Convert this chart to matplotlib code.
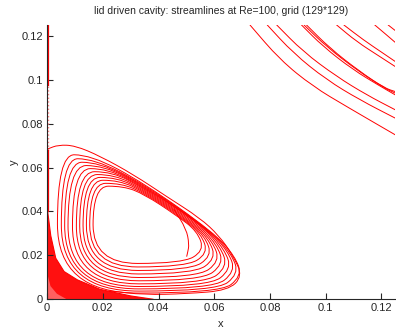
import numpy as np
import matplotlib
matplotlib.use('Agg')
import matplotlib.pyplot as plt
from matplotlib.path import Path
from matplotlib.patches import PathPatch

# corner eddy loops, outer (0) -> inner (10)
left_x = [0.0037, 0.0051, 0.0063, 0.0075, 0.0091, 0.0105, 0.0117, 0.0129, 0.0141, 0.0153, 0.0165]
bottom_y = [0.0028, 0.0037, 0.0047, 0.0058, 0.0070, 0.0084, 0.0099, 0.0115, 0.0131, 0.0147, 0.0163]
top_y = [0.0658, 0.0640, 0.0624, 0.0609, 0.0595, 0.0581, 0.0568, 0.0555, 0.0542, 0.0528, 0.0515]
top_x = [0.0097, 0.0110, 0.0125, 0.0140, 0.0155, 0.0170, 0.0180, 0.0190, 0.0200, 0.0210, 0.0220]
tip_x = [0.0700, 0.0688, 0.0676, 0.0662, 0.0648, 0.0634, 0.0620, 0.0606, 0.0592, 0.0578, 0.0564]
tip_y = [0.0105, 0.0115, 0.0126, 0.0137, 0.0148, 0.0160, 0.0172, 0.0184, 0.0196, 0.0208, 0.0220]
band_off = [0.0006, 0.0011, 0.0016, 0.0021, 0.0026, 0.0031, 0.0036, 0.0041, 0.0046, 0.0051, 0.0056]

# outermost streamline of the eddy (diagonal band)
band_x = [0.008, 0.019, 0.031, 0.043, 0.0549, 0.0615, 0.0665]
band_y = [0.0703, 0.065, 0.0567, 0.0466, 0.0369, 0.029, 0.020]
outer_x = [0.0003, 0.004, 0.010, 0.019, 0.031, 0.043, 0.0549, 0.0617, 0.0667, 0.0702, 0.065, 0.050, 0.035, 0.022]
outer_y = [0.0685, 0.0703, 0.0700, 0.0652, 0.0568, 0.0467, 0.0370, 0.0290, 0.0200, 0.0105, 0.0040, 0.0025, 0.0020, 0.0038]
hook_x = [0.0455, 0.0500, 0.0510, 0.0505, 0.0501]
hook_y = [0.0410, 0.0320, 0.0250, 0.0215, 0.0194]

# dense streamlines near the corner
fan_x = [0.0, 0.0, 0.0013, 0.0031, 0.0061, 0.0109, 0.019, 0.030, 0.038, 0.0]
fan_y = [0.0, 0.042, 0.029, 0.0187, 0.0126, 0.0088, 0.0045, 0.0015, 0.0, 0.0]
core_x = [0.0, 0.0, 0.0012, 0.0035, 0.007, 0.0]
core_y = [0.0, 0.012, 0.006, 0.0025, 0.0, 0.0]

# main vortex streamlines in the upper right
arcs = [
    ([0.0728, 0.0836, 0.0955, 0.1075, 0.1250], [0.1250, 0.1091, 0.0969, 0.0878, 0.0749]),
    ([0.0790, 0.0884, 0.1003, 0.1123, 0.1250], [0.1250, 0.1121, 0.1000, 0.0908, 0.0825]),
    ([0.0824, 0.0919, 0.1039, 0.1147, 0.1250], [0.1250, 0.1128, 0.1015, 0.0931, 0.0863]),
    ([0.0913, 0.0991, 0.1099, 0.1194, 0.1250], [0.1250, 0.1151, 0.1045, 0.0972, 0.0931]),
    ([0.0922, 0.1003, 0.1111, 0.1206, 0.1250], [0.1250, 0.1151, 0.1045, 0.0966, 0.0939]),
    ([0.0931, 0.1015, 0.1123, 0.1212, 0.1250], [0.1250, 0.1144, 0.1037, 0.0962, 0.0946]),
    ([0.1039, 0.1111, 0.1194, 0.1250], [0.1250, 0.1174, 0.1106, 0.1060]),
    ([0.1065, 0.1135, 0.1206, 0.1250], [0.1250, 0.1182, 0.1121, 0.1083]),
    ([0.1176, 0.1218, 0.1250], [0.1250, 0.1205, 0.1170]),
    ([0.1224, 0.1250], [0.1250, 0.1224]),
]

ticks = [0, 0.02, 0.04, 0.06, 0.08, 0.1, 0.12]
tick_labels = ['0', '0.02', '0.04', '0.06', '0.08', '0.1', '0.12']

RED = '#ff0000'


def smooth_path(xs, ys, closed=False):
    # quadratic b-spline through control points, drawn by matplotlib
    pts = np.column_stack([xs, ys])
    n = len(pts)
    if closed:
        mids = (pts + np.roll(pts, -1, axis=0)) / 2
        verts = [mids[-1]]
        codes = [Path.MOVETO]
        for i in range(n):
            verts += [pts[i], mids[i]]
            codes += [Path.CURVE3, Path.CURVE3]
    else:
        mids = (pts[:-1] + pts[1:]) / 2
        verts = [pts[0], mids[0]]
        codes = [Path.MOVETO, Path.LINETO]
        for i in range(1, n - 1):
            verts += [pts[i], mids[i]]
            codes += [Path.CURVE3, Path.CURVE3]
        verts.append(pts[-1])
        codes.append(Path.LINETO)
    return Path(verts, codes)


def loop_ctrl(k):
    band = lambda x: np.interp(x, band_x, band_y)
    L, B, T = left_x[k], bottom_y[k], top_y[k]
    tx, ty, off = tip_x[k], tip_y[k], band_off[k]
    xs = [tx, tx - 0.008, L, L, 2 * top_x[k] - L, 0.035, tx - 0.010, tx - 0.0025]
    ys = [ty, B, B, T, T, band(0.035) - off, band(tx - 0.010) - off, ty + 0.009]
    return xs, ys


fig = plt.figure(figsize=(3.96, 3.31), dpi=100)
ax = fig.add_axes([0.119, 0.096, 0.879, 0.829])

ax.fill(fan_x, fan_y, color='#ff1010', lw=0)
ax.fill(core_x, core_y, color='#ff6060', lw=0)
ax.plot(fan_x[1:9], fan_y[1:9], color=RED, lw=0.8)

for k in range(len(left_x)):
    xs, ys = loop_ctrl(k)
    ax.add_patch(PathPatch(smooth_path(xs, ys, closed=True), fill=False,
                           edgecolor=RED, lw=0.7))
ax.add_patch(PathPatch(smooth_path(outer_x, outer_y), fill=False, edgecolor=RED, lw=0.7))
ax.add_patch(PathPatch(smooth_path(hook_x, hook_y), fill=False, edgecolor=RED, lw=0.7))

for xs, ys in arcs:
    ax.add_patch(PathPatch(smooth_path(xs, ys), fill=False, edgecolor=RED, lw=0.7))

# streamline hugging the left wall
ax.plot([0.0002, 0.0002], [0.097, 0.125], color=RED, lw=1.6, solid_capstyle='butt')
ax.plot([0.0002, 0.0002], [0.068, 0.097], color='#ff8080', lw=1.0, ls=':')
ax.plot([0.0002, 0.0002], [0.040, 0.068], color=RED, lw=0.9)

ax.set_xlim(0, 0.125)
ax.set_ylim(0, 0.125)
ax.set_xticks(ticks)
ax.set_xticklabels(tick_labels)
ax.set_yticks(ticks)
ax.set_yticklabels(tick_labels)

for side in ['top', 'right']:
    ax.spines[side].set_visible(False)
for side in ['left', 'bottom']:
    ax.spines[side].set_color('#262626')
    ax.spines[side].set_linewidth(0.8)
ax.tick_params(direction='in', length=4, width=0.8, colors='#262626',
               labelsize=8, pad=3, top=False, right=False)
for lab in ax.get_xticklabels() + ax.get_yticklabels():
    lab.set_family('Liberation Sans')

ax.set_title('lid driven cavity: streamlines at Re=100, grid (129*129)',
             fontsize=7.5, family='Liberation Sans', color='#262626', pad=8)
ax.set_xlabel('x', fontsize=8, family='Liberation Sans', color='#262626', labelpad=4)
ax.set_ylabel('y', fontsize=8, family='Liberation Sans', color='#262626', labelpad=2)

fig.savefig('out.png', dpi=100)
